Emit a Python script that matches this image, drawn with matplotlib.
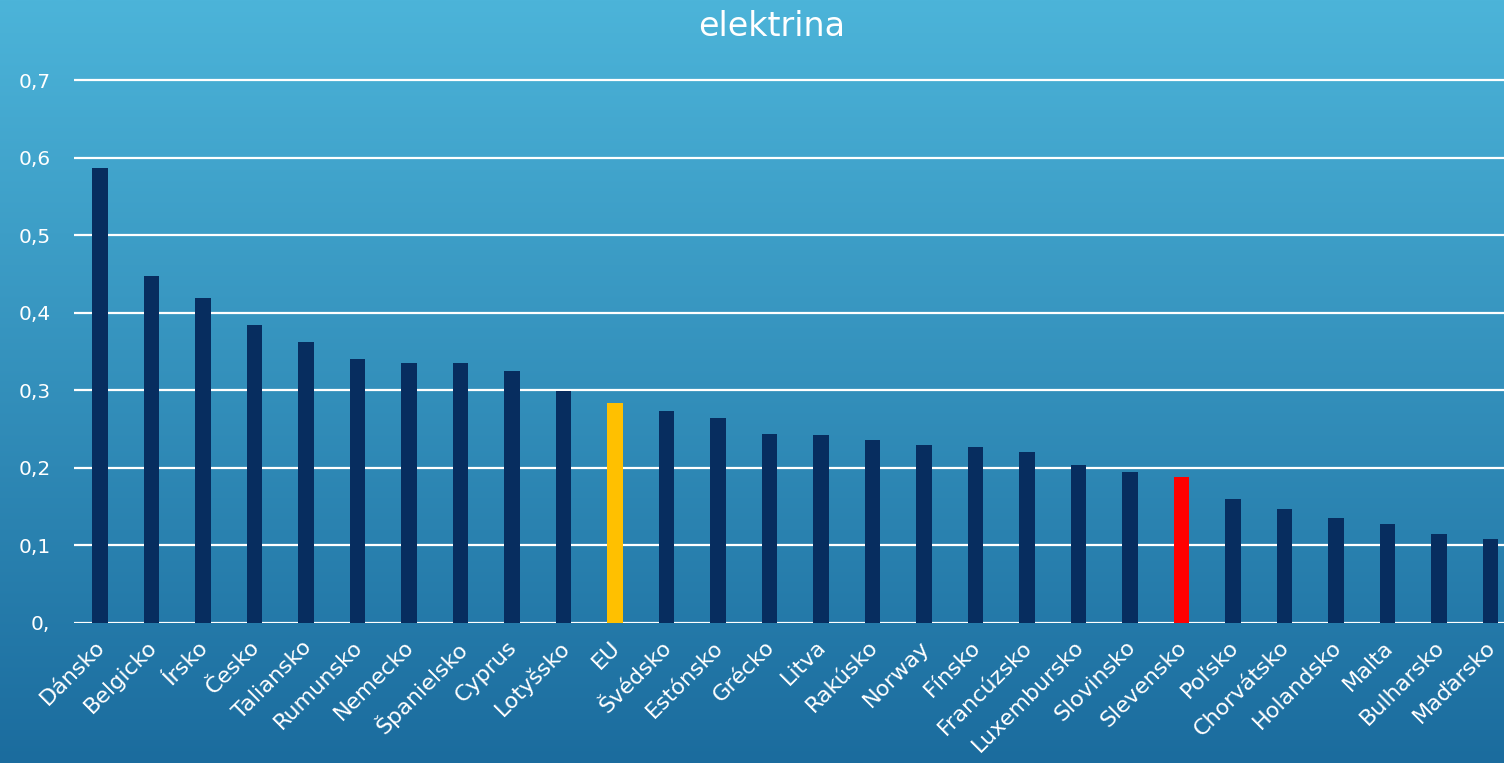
import numpy as np
import matplotlib.pyplot as plt
from matplotlib.transforms import ScaledTranslation

# data
countries = ['Dánsko', 'Belgicko', 'Írsko', 'Česko', 'Taliansko', 'Rumunsko', 'Nemecko',
             'Španielsko', 'Cyprus', 'Lotyšsko', 'EU', 'Švédsko', 'Estónsko', 'Grécko',
             'Litva', 'Rakúsko', 'Norway', 'Fínsko', 'Francúzsko', 'Luxembursko',
             'Slovinsko', 'Slevensko', 'Poľsko', 'Chorvátsko', 'Holandsko', 'Malta',
             'Bulharsko', 'Maďarsko']
values = [0.587, 0.447, 0.419, 0.384, 0.362, 0.340, 0.335, 0.335, 0.325, 0.299,
          0.284, 0.273, 0.264, 0.244, 0.242, 0.236, 0.229, 0.227, 0.220, 0.204,
          0.195, 0.188, 0.160, 0.147, 0.135, 0.128, 0.115, 0.108]
yticks = [0, 0.1, 0.2, 0.3, 0.4, 0.5, 0.6, 0.7]
ytick_labels = ['0,', '0,1', '0,2', '0,3', '0,4', '0,5', '0,6', '0,7']

navy = '#072D5F'
colors = [navy] * len(countries)
colors[countries.index('EU')] = '#FFC000'
colors[countries.index('Slevensko')] = '#FF0000'

plt.rcParams['font.family'] = ['DejaVu Sans']

W, H = 1504, 763
fig = plt.figure(figsize=(W / 100, H / 100), dpi=100)

# gradient background
bg = fig.add_axes([0, 0, 1, 1], zorder=0)
top = np.array([0x4C, 0xB4, 0xD9]) / 255
bottom = np.array([0x1B, 0x6C, 0x9E]) / 255
t = np.linspace(0, 1, 256)[:, None]
grad = top[None, :] * (1 - t) + bottom[None, :] * t
bg.imshow(grad[:, None, :], aspect='auto', extent=[0, 1, 0, 1])
bg.axis('off')

# main axes: x=0 bar centre at px 100, spacing 51.5 px
step = 51.5
x_left = -(100 - 74) / step
x_right = (1504 - 100) / step
ax_left = 74 / W
ymax = 0.72
px_per_unit = (623 - 80) / 0.7
ax_bottom = 1 - 623 / H
ax_height = ymax * px_per_unit / H
ax = fig.add_axes([ax_left, ax_bottom, 1 - ax_left, ax_height], zorder=1)
ax.patch.set_alpha(0)

x = np.arange(len(countries))
ax.bar(x, values, width=0.31, color=colors, zorder=3)

ax.set_xlim(x_left, x_right)
ax.set_ylim(0, ymax)
ax.set_yticks(yticks)
ax.set_yticklabels(ytick_labels, color='white', fontsize=14.5)
ax.set_xticks(x)
ax.set_xticklabels(countries, rotation=45, ha='right', rotation_mode='anchor',
                   color='white', fontsize=16)
ax.tick_params(axis='both', length=0)
ax.tick_params(axis='y', pad=17)
ax.tick_params(axis='x', pad=10)
# nudge x labels a bit to the left, like the original
shift = ScaledTranslation(-5 / 100, 0, fig.dpi_scale_trans)
for lbl in ax.get_xticklabels():
    lbl.set_transform(lbl.get_transform() + shift)
for s in ax.spines.values():
    s.set_visible(False)
ax.grid(axis='y', color='white', linewidth=1.6, zorder=1)
ax.set_axisbelow(True)

fig.text(0.513, 1 - 27 / H, 'elektrina', color='white', fontsize=24,
         ha='center', va='center')

fig.savefig('out.png', dpi=100)
